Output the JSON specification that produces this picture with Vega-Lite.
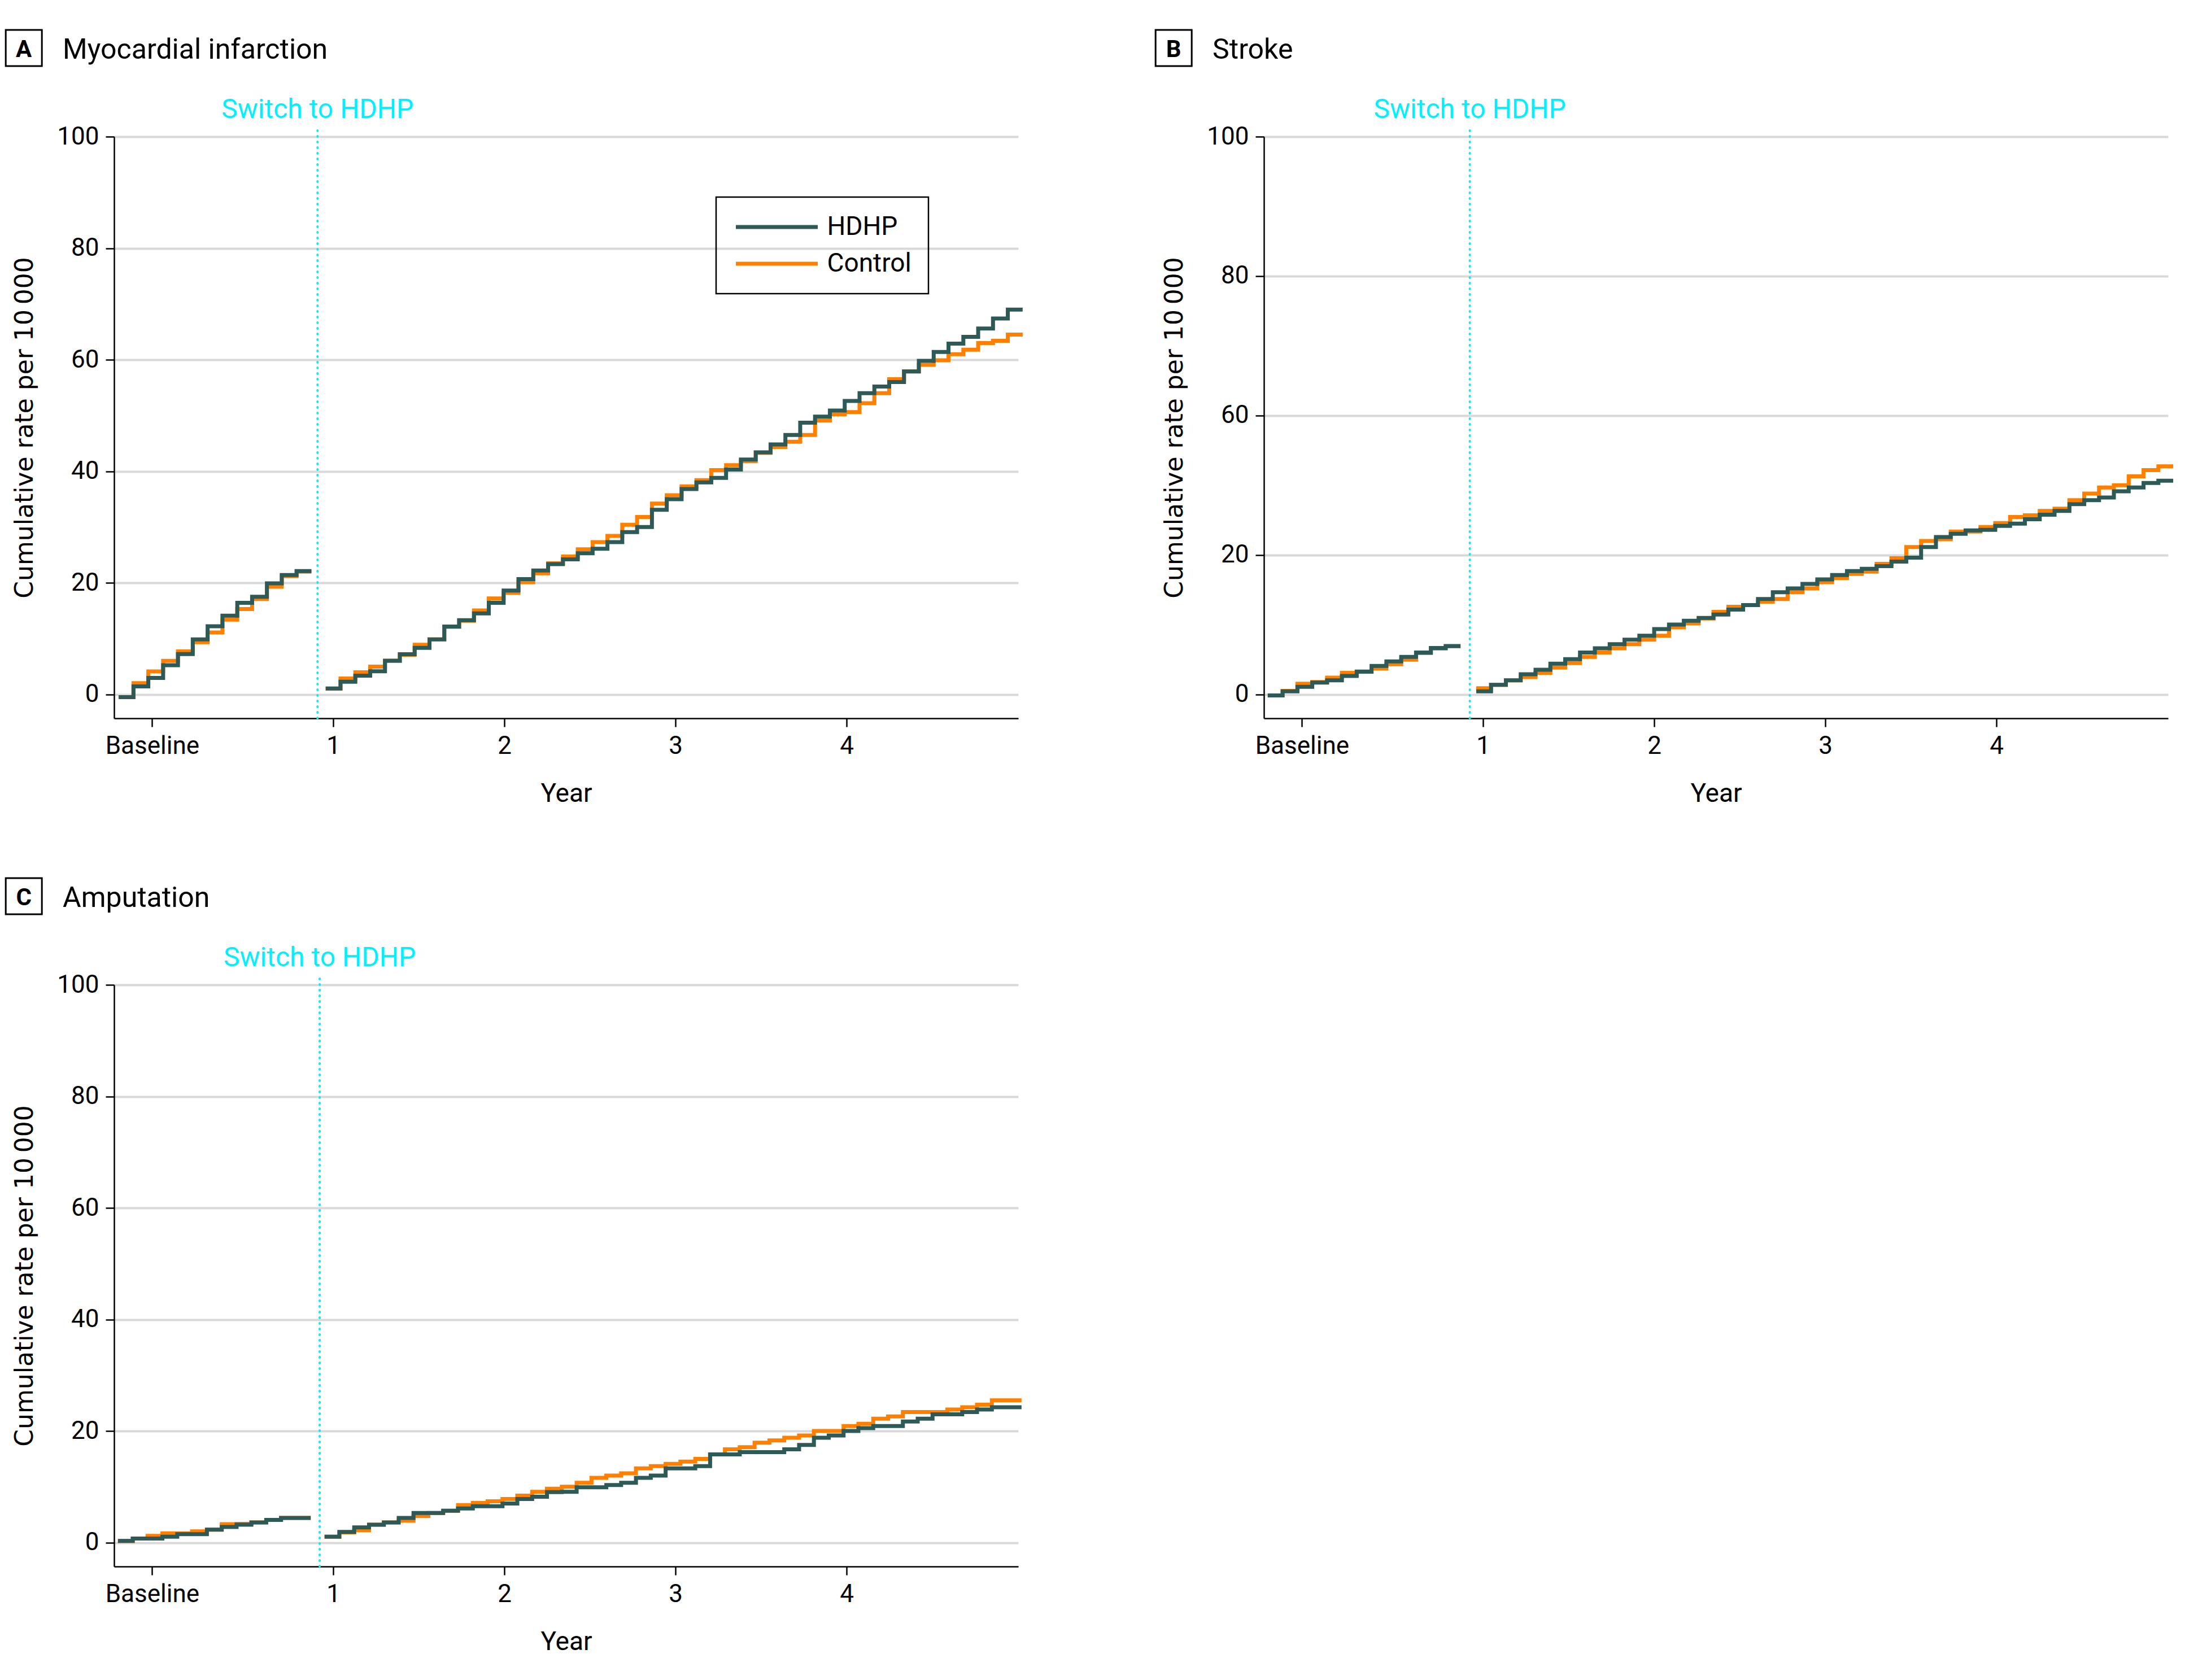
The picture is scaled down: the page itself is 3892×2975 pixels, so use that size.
{
"$schema":"https://vega.github.io/schema/vega-lite/v6.json",
"background":"white",
"padding":{"left":4,"top":46,"right":5,"bottom":5},
"datasets":{"d":[
{"p":"A","s":"b","x":-3.05,"HDHP":-0.5,"Control":-0.5},
{"p":"A","s":"b","x":-2.01,"HDHP":1.42,"Control":2.0},
{"p":"A","s":"b","x":-0.97,"HDHP":2.94,"Control":4.1},
{"p":"A","s":"b","x":0.07,"HDHP":5.23,"Control":6.0},
{"p":"A","s":"b","x":1.11,"HDHP":7.22,"Control":7.7},
{"p":"A","s":"b","x":2.15,"HDHP":9.85,"Control":9.35},
{"p":"A","s":"b","x":3.19,"HDHP":12.2,"Control":11.1},
{"p":"A","s":"b","x":4.23,"HDHP":14.1,"Control":13.4},
{"p":"A","s":"b","x":5.27,"HDHP":16.4,"Control":15.3},
{"p":"A","s":"b","x":6.31,"HDHP":17.5,"Control":17.1},
{"p":"A","s":"b","x":7.35,"HDHP":19.9,"Control":19.3},
{"p":"A","s":"b","x":8.39,"HDHP":21.4,"Control":21.2},
{"p":"A","s":"b","x":9.43,"HDHP":22.1,"Control":22.0},
{"p":"A","s":"b","x":10.47,"HDHP":22.1,"Control":22.0},
{"p":"A","s":"f","x":11.47,"HDHP":1.05,"Control":1.05},
{"p":"A","s":"f","x":12.51,"HDHP":2.26,"Control":2.83},
{"p":"A","s":"f","x":13.55,"HDHP":3.34,"Control":3.95},
{"p":"A","s":"f","x":14.59,"HDHP":4.12,"Control":4.96},
{"p":"A","s":"f","x":15.63,"HDHP":6.04,"Control":6.0},
{"p":"A","s":"f","x":16.67,"HDHP":7.19,"Control":7.1},
{"p":"A","s":"f","x":17.71,"HDHP":8.34,"Control":8.9},
{"p":"A","s":"f","x":18.75,"HDHP":9.85,"Control":9.85},
{"p":"A","s":"f","x":19.79,"HDHP":12.15,"Control":12.1},
{"p":"A","s":"f","x":20.83,"HDHP":13.3,"Control":13.2},
{"p":"A","s":"f","x":21.87,"HDHP":14.5,"Control":15.05},
{"p":"A","s":"f","x":22.91,"HDHP":16.4,"Control":17.2},
{"p":"A","s":"f","x":23.95,"HDHP":18.6,"Control":18.2},
{"p":"A","s":"f","x":24.99,"HDHP":20.65,"Control":20.1},
{"p":"A","s":"f","x":26.03,"HDHP":22.2,"Control":21.7},
{"p":"A","s":"f","x":27.07,"HDHP":23.35,"Control":23.5},
{"p":"A","s":"f","x":28.11,"HDHP":24.2,"Control":24.7},
{"p":"A","s":"f","x":29.15,"HDHP":25.3,"Control":26.0},
{"p":"A","s":"f","x":30.19,"HDHP":26.1,"Control":27.3},
{"p":"A","s":"f","x":31.23,"HDHP":27.3,"Control":28.4},
{"p":"A","s":"f","x":32.27,"HDHP":29.1,"Control":30.4},
{"p":"A","s":"f","x":33.31,"HDHP":30.0,"Control":31.8},
{"p":"A","s":"f","x":34.35,"HDHP":33.1,"Control":34.2},
{"p":"A","s":"f","x":35.39,"HDHP":35.0,"Control":35.7},
{"p":"A","s":"f","x":36.43,"HDHP":36.8,"Control":37.3},
{"p":"A","s":"f","x":37.47,"HDHP":38.0,"Control":38.4},
{"p":"A","s":"f","x":38.51,"HDHP":38.8,"Control":40.2},
{"p":"A","s":"f","x":39.55,"HDHP":40.3,"Control":41.1},
{"p":"A","s":"f","x":40.59,"HDHP":42.1,"Control":41.8},
{"p":"A","s":"f","x":41.63,"HDHP":43.4,"Control":43.3},
{"p":"A","s":"f","x":42.67,"HDHP":44.8,"Control":44.35},
{"p":"A","s":"f","x":43.71,"HDHP":46.5,"Control":45.3},
{"p":"A","s":"f","x":44.75,"HDHP":48.7,"Control":46.5},
{"p":"A","s":"f","x":45.79,"HDHP":49.8,"Control":49.1},
{"p":"A","s":"f","x":46.83,"HDHP":50.9,"Control":50.2},
{"p":"A","s":"f","x":47.87,"HDHP":52.6,"Control":50.6},
{"p":"A","s":"f","x":48.91,"HDHP":54.0,"Control":52.2},
{"p":"A","s":"f","x":49.95,"HDHP":55.2,"Control":54.0},
{"p":"A","s":"f","x":50.99,"HDHP":56.0,"Control":56.5},
{"p":"A","s":"f","x":52.03,"HDHP":57.9,"Control":57.9},
{"p":"A","s":"f","x":53.07,"HDHP":59.8,"Control":59.1},
{"p":"A","s":"f","x":54.11,"HDHP":61.4,"Control":59.9},
{"p":"A","s":"f","x":55.15,"HDHP":62.9,"Control":61.0},
{"p":"A","s":"f","x":56.19,"HDHP":64.1,"Control":61.8},
{"p":"A","s":"f","x":57.23,"HDHP":65.6,"Control":63.0},
{"p":"A","s":"f","x":58.27,"HDHP":67.4,"Control":63.4},
{"p":"A","s":"f","x":59.31,"HDHP":69.0,"Control":64.5},
{"p":"A","s":"f","x":60.35,"HDHP":69.0,"Control":64.5},
{"p":"B","s":"b","x":-3.1,"HDHP":-0.2,"Control":-0.2},
{"p":"B","s":"b","x":-2.06,"HDHP":0.54,"Control":0.6},
{"p":"B","s":"b","x":-1.02,"HDHP":1.35,"Control":1.9},
{"p":"B","s":"b","x":0.02,"HDHP":2.1,"Control":2.2},
{"p":"B","s":"b","x":1.06,"HDHP":2.5,"Control":3.0},
{"p":"B","s":"b","x":2.1,"HDHP":3.3,"Control":3.85},
{"p":"B","s":"b","x":3.14,"HDHP":4.05,"Control":4.1},
{"p":"B","s":"b","x":4.18,"HDHP":5.1,"Control":4.6},
{"p":"B","s":"b","x":5.22,"HDHP":5.9,"Control":5.4},
{"p":"B","s":"b","x":6.26,"HDHP":6.7,"Control":6.2},
{"p":"B","s":"b","x":7.3,"HDHP":7.5,"Control":7.4},
{"p":"B","s":"b","x":8.34,"HDHP":8.3,"Control":8.2},
{"p":"B","s":"b","x":9.38,"HDHP":8.65,"Control":8.6},
{"p":"B","s":"b","x":10.42,"HDHP":8.65,"Control":8.6},
{"p":"B","s":"f","x":11.52,"HDHP":0.54,"Control":1.1},
{"p":"B","s":"f","x":12.56,"HDHP":1.7,"Control":1.7},
{"p":"B","s":"f","x":13.6,"HDHP":2.5,"Control":2.5},
{"p":"B","s":"f","x":14.64,"HDHP":3.6,"Control":3.1},
{"p":"B","s":"f","x":15.68,"HDHP":4.4,"Control":3.85},
{"p":"B","s":"f","x":16.72,"HDHP":5.5,"Control":4.8},
{"p":"B","s":"f","x":17.76,"HDHP":6.3,"Control":5.6},
{"p":"B","s":"f","x":18.8,"HDHP":7.5,"Control":6.7},
{"p":"B","s":"f","x":19.84,"HDHP":8.25,"Control":7.5},
{"p":"B","s":"f","x":20.88,"HDHP":9.0,"Control":8.25},
{"p":"B","s":"f","x":21.92,"HDHP":9.8,"Control":9.0},
{"p":"B","s":"f","x":22.96,"HDHP":10.5,"Control":9.8},
{"p":"B","s":"f","x":24.0,"HDHP":11.7,"Control":10.5},
{"p":"B","s":"f","x":25.04,"HDHP":12.5,"Control":12.0},
{"p":"B","s":"f","x":26.08,"HDHP":13.2,"Control":12.7},
{"p":"B","s":"f","x":27.12,"HDHP":13.7,"Control":13.6},
{"p":"B","s":"f","x":28.16,"HDHP":14.3,"Control":14.8},
{"p":"B","s":"f","x":29.2,"HDHP":15.2,"Control":15.7},
{"p":"B","s":"f","x":30.24,"HDHP":16.0,"Control":16.0},
{"p":"B","s":"f","x":31.28,"HDHP":17.1,"Control":16.6},
{"p":"B","s":"f","x":32.32,"HDHP":18.3,"Control":17.1},
{"p":"B","s":"f","x":33.36,"HDHP":19.0,"Control":18.3},
{"p":"B","s":"f","x":34.4,"HDHP":19.8,"Control":19.0},
{"p":"B","s":"f","x":35.44,"HDHP":20.6,"Control":20.1},
{"p":"B","s":"f","x":36.48,"HDHP":21.4,"Control":20.85},
{"p":"B","s":"f","x":37.52,"HDHP":22.1,"Control":21.6},
{"p":"B","s":"f","x":38.56,"HDHP":22.5,"Control":22.0},
{"p":"B","s":"f","x":39.6,"HDHP":23.0,"Control":23.4},
{"p":"B","s":"f","x":40.64,"HDHP":23.8,"Control":24.4},
{"p":"B","s":"f","x":41.68,"HDHP":24.5,"Control":26.4},
{"p":"B","s":"f","x":42.72,"HDHP":26.4,"Control":27.5},
{"p":"B","s":"f","x":43.76,"HDHP":28.2,"Control":27.8},
{"p":"B","s":"f","x":44.8,"HDHP":28.8,"Control":29.2},
{"p":"B","s":"f","x":45.84,"HDHP":29.4,"Control":29.2},
{"p":"B","s":"f","x":46.88,"HDHP":29.5,"Control":30.0},
{"p":"B","s":"f","x":47.92,"HDHP":30.2,"Control":30.7},
{"p":"B","s":"f","x":48.96,"HDHP":30.6,"Control":31.8},
{"p":"B","s":"f","x":50.0,"HDHP":31.4,"Control":32.1},
{"p":"B","s":"f","x":51.04,"HDHP":32.2,"Control":32.9},
{"p":"B","s":"f","x":52.08,"HDHP":32.9,"Control":33.3},
{"p":"B","s":"f","x":53.12,"HDHP":34.1,"Control":34.8},
{"p":"B","s":"f","x":54.16,"HDHP":34.8,"Control":36.0},
{"p":"B","s":"f","x":55.2,"HDHP":35.3,"Control":37.1},
{"p":"B","s":"f","x":56.24,"HDHP":36.4,"Control":37.5},
{"p":"B","s":"f","x":57.28,"HDHP":37.1,"Control":39.1},
{"p":"B","s":"f","x":58.32,"HDHP":37.9,"Control":40.2},
{"p":"B","s":"f","x":59.36,"HDHP":38.3,"Control":40.9},
{"p":"B","s":"f","x":60.4,"HDHP":38.3,"Control":40.9},
{"p":"C","s":"b","x":-3.1,"HDHP":0.27,"Control":0.27},
{"p":"C","s":"b","x":-2.06,"HDHP":0.7,"Control":0.7},
{"p":"C","s":"b","x":-1.02,"HDHP":0.7,"Control":1.2},
{"p":"C","s":"b","x":0.02,"HDHP":1.05,"Control":1.65},
{"p":"C","s":"b","x":1.06,"HDHP":1.5,"Control":1.65},
{"p":"C","s":"b","x":2.1,"HDHP":1.5,"Control":2.0},
{"p":"C","s":"b","x":3.14,"HDHP":2.3,"Control":2.3},
{"p":"C","s":"b","x":4.18,"HDHP":2.8,"Control":3.3},
{"p":"C","s":"b","x":5.22,"HDHP":3.2,"Control":3.35},
{"p":"C","s":"b","x":6.26,"HDHP":3.6,"Control":3.6},
{"p":"C","s":"b","x":7.3,"HDHP":4.05,"Control":4.05},
{"p":"C","s":"b","x":8.34,"HDHP":4.4,"Control":4.4},
{"p":"C","s":"b","x":9.38,"HDHP":4.4,"Control":4.4},
{"p":"C","s":"b","x":10.42,"HDHP":4.4,"Control":4.4},
{"p":"C","s":"f","x":11.39,"HDHP":1.05,"Control":1.05},
{"p":"C","s":"f","x":12.43,"HDHP":1.9,"Control":1.8},
{"p":"C","s":"f","x":13.47,"HDHP":2.7,"Control":2.2},
{"p":"C","s":"f","x":14.51,"HDHP":3.2,"Control":3.2},
{"p":"C","s":"f","x":15.55,"HDHP":3.6,"Control":3.6},
{"p":"C","s":"f","x":16.59,"HDHP":4.4,"Control":3.9},
{"p":"C","s":"f","x":17.63,"HDHP":5.3,"Control":4.75},
{"p":"C","s":"f","x":18.67,"HDHP":5.3,"Control":5.3},
{"p":"C","s":"f","x":19.71,"HDHP":5.7,"Control":5.7},
{"p":"C","s":"f","x":20.75,"HDHP":6.1,"Control":6.7},
{"p":"C","s":"f","x":21.79,"HDHP":6.5,"Control":7.1},
{"p":"C","s":"f","x":22.83,"HDHP":6.5,"Control":7.4},
{"p":"C","s":"f","x":23.87,"HDHP":7.0,"Control":7.8},
{"p":"C","s":"f","x":24.91,"HDHP":7.8,"Control":8.4},
{"p":"C","s":"f","x":25.95,"HDHP":8.2,"Control":9.1},
{"p":"C","s":"f","x":26.99,"HDHP":9.05,"Control":9.65},
{"p":"C","s":"f","x":28.03,"HDHP":9.1,"Control":10.0},
{"p":"C","s":"f","x":29.07,"HDHP":9.9,"Control":10.7},
{"p":"C","s":"f","x":30.11,"HDHP":9.9,"Control":11.6},
{"p":"C","s":"f","x":31.15,"HDHP":10.3,"Control":12.0},
{"p":"C","s":"f","x":32.19,"HDHP":10.7,"Control":12.4},
{"p":"C","s":"f","x":33.23,"HDHP":11.6,"Control":13.3},
{"p":"C","s":"f","x":34.27,"HDHP":12.0,"Control":13.7},
{"p":"C","s":"f","x":35.31,"HDHP":13.3,"Control":14.1},
{"p":"C","s":"f","x":36.35,"HDHP":13.3,"Control":14.5},
{"p":"C","s":"f","x":37.39,"HDHP":13.7,"Control":15.0},
{"p":"C","s":"f","x":38.43,"HDHP":15.8,"Control":15.8},
{"p":"C","s":"f","x":39.47,"HDHP":15.8,"Control":16.7},
{"p":"C","s":"f","x":40.51,"HDHP":16.2,"Control":17.1},
{"p":"C","s":"f","x":41.55,"HDHP":16.2,"Control":17.9},
{"p":"C","s":"f","x":42.59,"HDHP":16.2,"Control":18.3},
{"p":"C","s":"f","x":43.63,"HDHP":16.7,"Control":18.8},
{"p":"C","s":"f","x":44.67,"HDHP":17.5,"Control":19.2},
{"p":"C","s":"f","x":45.71,"HDHP":18.8,"Control":20.0},
{"p":"C","s":"f","x":46.75,"HDHP":19.2,"Control":20.0},
{"p":"C","s":"f","x":47.79,"HDHP":20.0,"Control":20.9},
{"p":"C","s":"f","x":48.83,"HDHP":20.5,"Control":21.3},
{"p":"C","s":"f","x":49.87,"HDHP":20.9,"Control":22.2},
{"p":"C","s":"f","x":50.91,"HDHP":20.9,"Control":22.6},
{"p":"C","s":"f","x":51.95,"HDHP":21.7,"Control":23.4},
{"p":"C","s":"f","x":52.99,"HDHP":22.2,"Control":23.4},
{"p":"C","s":"f","x":54.03,"HDHP":23.0,"Control":23.4},
{"p":"C","s":"f","x":55.07,"HDHP":23.0,"Control":23.85},
{"p":"C","s":"f","x":56.11,"HDHP":23.4,"Control":24.25},
{"p":"C","s":"f","x":57.15,"HDHP":23.85,"Control":24.7},
{"p":"C","s":"f","x":58.19,"HDHP":24.25,"Control":25.5},
{"p":"C","s":"f","x":59.23,"HDHP":24.25,"Control":25.5},
{"p":"C","s":"f","x":60.27,"HDHP":24.25,"Control":25.5}
]},
"concat":[
{"width":1601,"height":1030,"layer":[
 {"data":{"name":"d"},"transform":[{"filter":"datum.p=='A'"},{"fold":["HDHP","Control"],"as":["g","v"]},{"filter":"datum.g=='Control'"}],
  "mark":{"type":"line","interpolate":"step-after","strokeWidth":7,"clip":false},
  "encoding":{
   "x":{"field":"x","type":"quantitative","scale":{"domain":[-3.37,60.04],"nice":false,"zero":false},"axis":{"values":[-0.7,12,24,36,48],"labelExpr":"datum.value < 0 ? 'Baseline' : format(datum.value/12,'d')"},"title":"Year"},
   "y":{"field":"v","type":"quantitative","scale":{"domain":[-4.3,100],"nice":false,"zero":false},"axis":{"values":[0,20,40,60,80,100]},"title":"Cumulative rate per 10\u2009000"},
   "color":{"field":"g","type":"nominal","scale":{"domain":["HDHP","Control"],"range":["#2d5956","#ff8000"]},"legend":{"title":null,"orient":"none","legendX":1066,"legendY":107,"symbolType":"M-5,0H5","symbolSize":841,"symbolStrokeWidth":7,"symbolOffset":54.5,"labelOffset":66,"labelFont":"Roboto","labelFontSize":46,"labelColor":"black","padding":30,"rowPadding":19,"strokeColor":"black"}},
   "detail":{"field":"s"}}},
 {"data":{"name":"d"},"transform":[{"filter":"datum.p=='A'"},{"fold":["HDHP","Control"],"as":["g","v"]},{"filter":"datum.g=='HDHP'"}],
  "mark":{"type":"line","interpolate":"step-after","strokeWidth":7,"clip":false},
  "encoding":{
   "x":{"field":"x","type":"quantitative","scale":{"domain":[-3.37,60.04],"nice":false,"zero":false},"axis":{"values":[-0.7,12,24,36,48],"labelExpr":"datum.value < 0 ? 'Baseline' : format(datum.value/12,'d')"},"title":"Year"},
   "y":{"field":"v","type":"quantitative","scale":{"domain":[-4.3,100],"nice":false,"zero":false},"axis":{"values":[0,20,40,60,80,100]},"title":"Cumulative rate per 10\u2009000"},
   "color":{"field":"g","type":"nominal","scale":{"domain":["HDHP","Control"],"range":["#2d5956","#ff8000"]},"legend":{"title":null,"orient":"none","legendX":1066,"legendY":107,"symbolType":"M-5,0H5","symbolSize":841,"symbolStrokeWidth":7,"symbolOffset":54.5,"labelOffset":66,"labelFont":"Roboto","labelFontSize":46,"labelColor":"black","padding":30,"rowPadding":19,"strokeColor":"black"}},
   "detail":{"field":"s"}}},
 {"data":{"values":[{}]},"mark":{"type":"rule","color":"#00f0ff","strokeWidth":4,"strokeDash":[1,9],"strokeCap":"round","clip":false},"encoding":{"x":{"datum":10.9},"y":{"datum":-4.3},"y2":{"datum":101.5}}},
 {"data":{"values":[{}]},"mark":{"type":"text","text":"Switch to HDHP","color":"#00f0ff","font":"Roboto","fontSize":48,"align":"center","baseline":"alphabetic","clip":false},"encoding":{"x":{"datum":10.9},"y":{"datum":103.3}}},
 {"data":{"values":[{}]},"mark":{"type":"point","shape":"square","size":4096,"filled":false,"stroke":"black","strokeWidth":3,"opacity":1,"clip":false},"encoding":{"x":{"datum":-9.7},"y":{"datum":115.9}}},
 {"data":{"values":[{}]},"mark":{"type":"text","text":"A","font":"Roboto","fontWeight":"bold","fontSize":42,"color":"black","align":"center","baseline":"alphabetic","clip":false},"encoding":{"x":{"datum":-9.7},"y":{"datum":114.3}}},
 {"data":{"values":[{}]},"mark":{"type":"text","text":"Myocardial infarction","font":"Roboto","fontSize":50,"color":"black","align":"left","baseline":"alphabetic","clip":false},"encoding":{"x":{"datum":-6.97},"y":{"datum":113.95}}}
]},
{"width":1601,"height":1030,"layer":[
 {"data":{"name":"d"},"transform":[{"filter":"datum.p=='B'"},{"fold":["HDHP","Control"],"as":["g","v"]},{"filter":"datum.g=='Control'"}],
  "mark":{"type":"line","interpolate":"step-after","strokeWidth":7,"clip":false},
  "encoding":{
   "x":{"field":"x","type":"quantitative","scale":{"domain":[-3.37,60.04],"nice":false,"zero":false},"axis":{"values":[-0.7,12,24,36,48],"labelExpr":"datum.value < 0 ? 'Baseline' : format(datum.value/12,'d')"},"title":"Year"},
   "y":{"field":"v","type":"quantitative","scale":{"domain":[-4.3,100],"nice":false,"zero":false},"axis":{"values":[0,25,50,75,100],"labelExpr":"datum.value==0?'0':datum.value==25?'20':datum.value==50?'60':datum.value==75?'80':'100'"},"title":"Cumulative rate per 10\u2009000"},
   "color":{"field":"g","type":"nominal","scale":{"domain":["HDHP","Control"],"range":["#2d5956","#ff8000"]},"legend":null},
   "detail":{"field":"s"}}},
 {"data":{"name":"d"},"transform":[{"filter":"datum.p=='B'"},{"fold":["HDHP","Control"],"as":["g","v"]},{"filter":"datum.g=='HDHP'"}],
  "mark":{"type":"line","interpolate":"step-after","strokeWidth":7,"clip":false},
  "encoding":{
   "x":{"field":"x","type":"quantitative","scale":{"domain":[-3.37,60.04],"nice":false,"zero":false},"axis":{"values":[-0.7,12,24,36,48],"labelExpr":"datum.value < 0 ? 'Baseline' : format(datum.value/12,'d')"},"title":"Year"},
   "y":{"field":"v","type":"quantitative","scale":{"domain":[-4.3,100],"nice":false,"zero":false},"axis":{"values":[0,25,50,75,100],"labelExpr":"datum.value==0?'0':datum.value==25?'20':datum.value==50?'60':datum.value==75?'80':'100'"},"title":"Cumulative rate per 10\u2009000"},
   "color":{"field":"g","type":"nominal","scale":{"domain":["HDHP","Control"],"range":["#2d5956","#ff8000"]},"legend":null},
   "detail":{"field":"s"}}},
 {"data":{"values":[{}]},"mark":{"type":"rule","color":"#00f0ff","strokeWidth":4,"strokeDash":[1,9],"strokeCap":"round","clip":false},"encoding":{"x":{"datum":11.07},"y":{"datum":-4.3},"y2":{"datum":101.5}}},
 {"data":{"values":[{}]},"mark":{"type":"text","text":"Switch to HDHP","color":"#00f0ff","font":"Roboto","fontSize":48,"align":"center","baseline":"alphabetic","clip":false},"encoding":{"x":{"datum":11.07},"y":{"datum":103.3}}},
 {"data":{"values":[{}]},"mark":{"type":"point","shape":"square","size":4096,"filled":false,"stroke":"black","strokeWidth":3,"opacity":1,"clip":false},"encoding":{"x":{"datum":-9.7},"y":{"datum":115.9}}},
 {"data":{"values":[{}]},"mark":{"type":"text","text":"B","font":"Roboto","fontWeight":"bold","fontSize":42,"color":"black","align":"center","baseline":"alphabetic","clip":false},"encoding":{"x":{"datum":-9.7},"y":{"datum":114.3}}},
 {"data":{"values":[{}]},"mark":{"type":"text","text":"Stroke","font":"Roboto","fontSize":50,"color":"black","align":"left","baseline":"alphabetic","clip":false},"encoding":{"x":{"datum":-6.97},"y":{"datum":113.95}}}
]},
{"width":1601,"height":1030,"layer":[
 {"data":{"name":"d"},"transform":[{"filter":"datum.p=='C'"},{"fold":["HDHP","Control"],"as":["g","v"]},{"filter":"datum.g=='Control'"}],
  "mark":{"type":"line","interpolate":"step-after","strokeWidth":7,"clip":false},
  "encoding":{
   "x":{"field":"x","type":"quantitative","scale":{"domain":[-3.37,60.04],"nice":false,"zero":false},"axis":{"values":[-0.7,12,24,36,48],"labelExpr":"datum.value < 0 ? 'Baseline' : format(datum.value/12,'d')"},"title":"Year"},
   "y":{"field":"v","type":"quantitative","scale":{"domain":[-4.3,100],"nice":false,"zero":false},"axis":{"values":[0,20,40,60,80,100]},"title":"Cumulative rate per 10\u2009000"},
   "color":{"field":"g","type":"nominal","scale":{"domain":["HDHP","Control"],"range":["#2d5956","#ff8000"]},"legend":null},
   "detail":{"field":"s"}}},
 {"data":{"name":"d"},"transform":[{"filter":"datum.p=='C'"},{"fold":["HDHP","Control"],"as":["g","v"]},{"filter":"datum.g=='HDHP'"}],
  "mark":{"type":"line","interpolate":"step-after","strokeWidth":7,"clip":false},
  "encoding":{
   "x":{"field":"x","type":"quantitative","scale":{"domain":[-3.37,60.04],"nice":false,"zero":false},"axis":{"values":[-0.7,12,24,36,48],"labelExpr":"datum.value < 0 ? 'Baseline' : format(datum.value/12,'d')"},"title":"Year"},
   "y":{"field":"v","type":"quantitative","scale":{"domain":[-4.3,100],"nice":false,"zero":false},"axis":{"values":[0,20,40,60,80,100]},"title":"Cumulative rate per 10\u2009000"},
   "color":{"field":"g","type":"nominal","scale":{"domain":["HDHP","Control"],"range":["#2d5956","#ff8000"]},"legend":null},
   "detail":{"field":"s"}}},
 {"data":{"values":[{}]},"mark":{"type":"rule","color":"#00f0ff","strokeWidth":4,"strokeDash":[1,9],"strokeCap":"round","clip":false},"encoding":{"x":{"datum":11.05},"y":{"datum":-4.3},"y2":{"datum":101.5}}},
 {"data":{"values":[{}]},"mark":{"type":"text","text":"Switch to HDHP","color":"#00f0ff","font":"Roboto","fontSize":48,"align":"center","baseline":"alphabetic","clip":false},"encoding":{"x":{"datum":11.05},"y":{"datum":103.3}}},
 {"data":{"values":[{}]},"mark":{"type":"point","shape":"square","size":4096,"filled":false,"stroke":"black","strokeWidth":3,"opacity":1,"clip":false},"encoding":{"x":{"datum":-9.7},"y":{"datum":115.9}}},
 {"data":{"values":[{}]},"mark":{"type":"text","text":"C","font":"Roboto","fontWeight":"bold","fontSize":42,"color":"black","align":"center","baseline":"alphabetic","clip":false},"encoding":{"x":{"datum":-9.7},"y":{"datum":114.3}}},
 {"data":{"values":[{}]},"mark":{"type":"text","text":"Amputation","font":"Roboto","fontSize":50,"color":"black","align":"left","baseline":"alphabetic","clip":false},"encoding":{"x":{"datum":-6.97},"y":{"datum":113.95}}}
]}
],
"columns":2,
"spacing":{"row":120,"column":215},
"resolve":{"scale":{"color":"independent"},"legend":{"color":"independent"}},
"config":{
 "view":{"stroke":null},
 "font":"Roboto",
 "axis":{"domainColor":"black","domainWidth":2.5,"tickColor":"black","tickWidth":2.5,"tickSize":15,"labelFont":"Roboto","labelFontSize":44,"labelColor":"black","labelPadding":12,"titleFont":"Roboto","titleFontSize":46,"titleFontWeight":"normal","titleColor":"black"},
 "axisX":{"grid":false,"titlePadding":40},
 "axisY":{"grid":true,"gridColor":"#d9d9d9","gridWidth":4,"titleFont":"DejaVu Sans","titleFontSize":44,"titlePadding":34},
 "legend":{"strokeWidth":2.5}
}
}
